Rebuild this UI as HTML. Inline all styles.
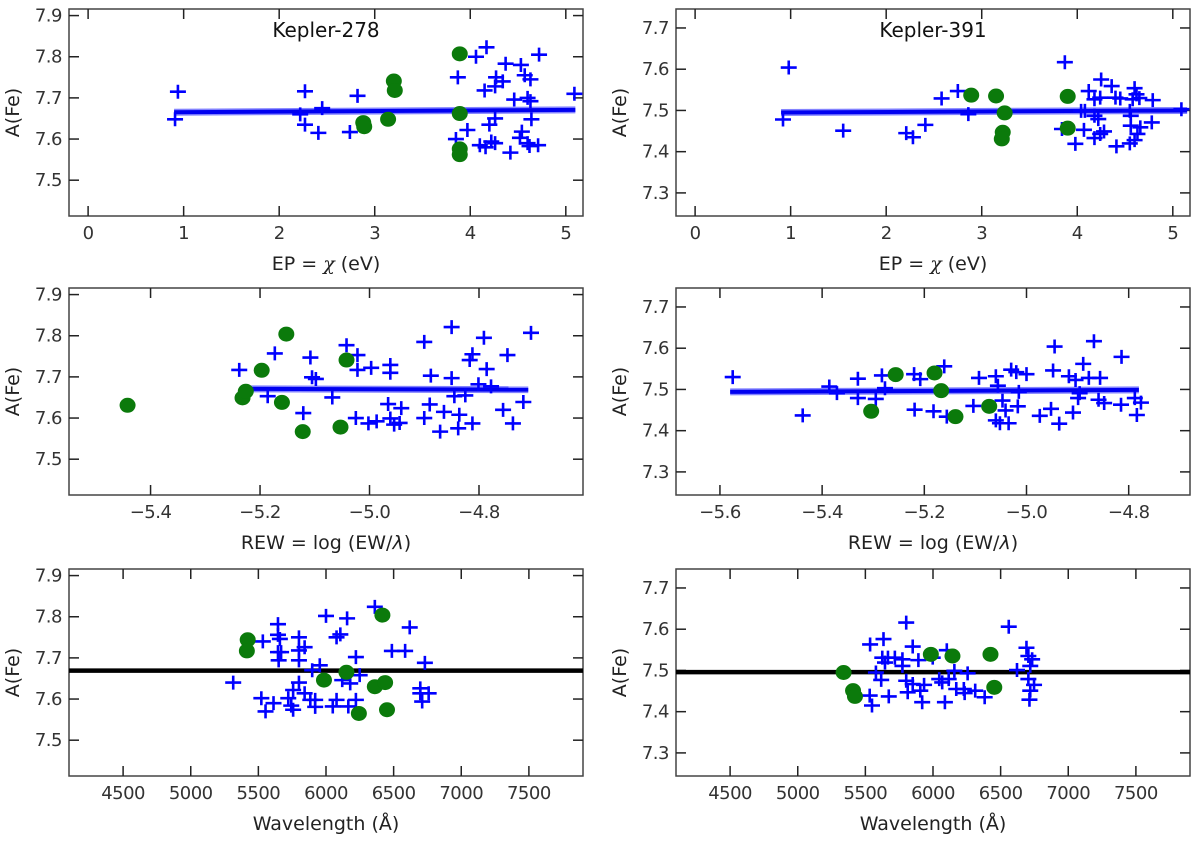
<!DOCTYPE html>
<html><head><meta charset="utf-8">
<style>
body{margin:0;background:#fff;}
svg{display:block;font-family:"DejaVu Sans","Liberation Sans",sans-serif;}
</style></head>
<body>
<svg id="fig" width="1200" height="847" viewBox="0 0 1200 847"></svg>
<script>
// ---------- Kepler-278 EP ----------
const k278_ep_cross_x = [0.94,0.91,2.27,2.22,2.27,2.45,2.41,2.82,2.74,3.87,3.85,3.97,4.06,4.17,4.15,4.27,4.34,4.26,4.37,4.26,4.2,4.1,4.22,4.16,4.26,4.42,4.53,4.57,4.63,4.46,4.6,4.63,4.54,4.52,4.6,4.64,4.71,4.62,4.72,5.09];
const k278_ep_cross_y = [7.715,7.648,7.716,7.66,7.635,7.675,7.615,7.705,7.617,7.75,7.60,7.622,7.80,7.823,7.718,7.75,7.74,7.728,7.783,7.65,7.635,7.585,7.594,7.58,7.59,7.567,7.78,7.755,7.745,7.696,7.70,7.692,7.618,7.603,7.59,7.648,7.585,7.583,7.805,7.71];
const k278_ep_dot_x = [3.89,3.2,3.21,2.88,2.89,3.14,3.89,3.89,3.89];
const k278_ep_dot_y = [7.807,7.741,7.718,7.64,7.63,7.648,7.662,7.576,7.562];
const k278_ep_fit_x = [0.9,5.1];
const k278_ep_fit_y = [7.665,7.671];
// ---------- Kepler-278 REW ----------
const k278_rew_cross_x = [-5.238,-5.173,-5.186,-5.121,-5.108,-5.105,-5.098,-5.068,-5.042,-5.022,-5.022,-5.025,-4.997,-5.002,-4.987,-4.962,-4.962,-4.966,-4.962,-4.955,-4.942,-4.945,-4.9,-4.9,-4.888,-4.89,-4.871,-4.864,-4.85,-4.85,-4.845,-4.836,-4.838,-4.825,-4.812,-4.817,-4.812,-4.801,-4.791,-4.786,-4.778,-4.756,-4.748,-4.738,-4.719,-4.705];
const k278_rew_cross_y = [7.717,7.757,7.653,7.612,7.747,7.699,7.695,7.65,7.777,7.753,7.717,7.60,7.722,7.587,7.592,7.729,7.71,7.634,7.599,7.584,7.624,7.588,7.785,7.6,7.703,7.633,7.567,7.615,7.821,7.697,7.653,7.608,7.575,7.655,7.755,7.741,7.587,7.682,7.795,7.719,7.677,7.62,7.753,7.587,7.639,7.807];
const k278_rew_dot_x = [-5.442,-5.232,-5.226,-5.197,-5.152,-5.16,-5.122,-5.042,-5.053];
const k278_rew_dot_y = [7.631,7.649,7.665,7.716,7.804,7.638,7.567,7.741,7.578];
const k278_rew_fit_x = [-5.235,-4.71];
const k278_rew_fit_y = [7.671,7.669];
// ---------- Kepler-278 wavelength ----------
const k278_wl_cross_x = [5314,5533,5522,5553,5612,5645,5645,5659,5645,5668,5650,5721,5743,5757,5757,5800,5800,5800,5842,5800,5842,5884,5920,5920,5954,5898,6000,6078,6106,6120,6078,6050,6156,6221,6221,6165,6249,6179,6361,6487,6585,6619,6731,6697,6711,6759,6697];
const k278_wl_cross_y = [7.64,7.74,7.602,7.57,7.59,7.782,7.756,7.746,7.714,7.714,7.694,7.602,7.584,7.574,7.622,7.75,7.718,7.694,7.726,7.64,7.614,7.598,7.581,7.598,7.682,7.67,7.802,7.75,7.757,7.646,7.598,7.582,7.796,7.702,7.598,7.582,7.658,7.638,7.824,7.717,7.717,7.774,7.688,7.626,7.594,7.614,7.614];
const k278_wl_dot_x = [5421,5415,5985,6151,6243,6361,6437,6417,6451];
const k278_wl_dot_y = [7.744,7.717,7.646,7.665,7.565,7.63,7.64,7.804,7.574];
const k278_mean = [7.669];
// ---------- Kepler-391 EP ----------
const k391_ep_cross_x = [0.92,0.98,1.55,2.21,2.28,2.41,2.58,2.75,2.86,3.87,3.84,3.98,4.07,4.04,4.12,4.18,4.18,4.22,4.18,4.24,4.28,4.25,4.24,4.36,4.4,4.41,4.45,4.55,4.56,4.55,4.6,4.62,4.65,4.58,4.66,4.63,4.6,4.78,4.79,5.09,4.08,4.56];
const k391_ep_cross_y = [7.478,7.604,7.451,7.445,7.435,7.465,7.529,7.547,7.491,7.617,7.455,7.419,7.453,7.499,7.547,7.527,7.487,7.479,7.433,7.443,7.449,7.575,7.531,7.559,7.531,7.413,7.529,7.42,7.463,7.499,7.554,7.539,7.53,7.527,7.459,7.443,7.428,7.471,7.525,7.503,7.499,7.487];
const k391_ep_dot_x = [2.89,3.15,3.24,3.22,3.21,3.9,3.9];
const k391_ep_dot_y = [7.537,7.535,7.494,7.447,7.431,7.534,7.457];
const k391_ep_fit_x = [0.9,5.15];
const k391_ep_fit_y = [7.495,7.5];
// ---------- Kepler-391 REW ----------
const k391_rew_cross_x = [-5.575,-5.438,-5.386,-5.371,-5.33,-5.33,-5.295,-5.283,-5.277,-5.219,-5.22,-5.208,-5.182,-5.161,-5.156,-5.104,-5.093,-5.06,-5.056,-5.06,-5.052,-5.047,-5.041,-5.035,-5.03,-5.02,-5.015,-5.017,-5.0,-4.974,-4.952,-4.948,-4.945,-4.936,-4.917,-4.909,-4.904,-4.896,-4.899,-4.889,-4.878,-4.868,-4.856,-4.859,-4.848,-4.815,-4.814,-4.788,-4.784,-4.776];
const k391_rew_cross_y = [7.53,7.437,7.507,7.491,7.526,7.479,7.477,7.534,7.503,7.451,7.537,7.525,7.447,7.556,7.434,7.46,7.528,7.532,7.509,7.425,7.418,7.473,7.449,7.418,7.548,7.542,7.494,7.459,7.537,7.436,7.453,7.546,7.604,7.417,7.532,7.444,7.523,7.491,7.479,7.562,7.528,7.617,7.528,7.475,7.467,7.463,7.579,7.479,7.438,7.468];
const k391_rew_dot_x = [-5.256,-5.304,-5.18,-5.167,-5.139,-5.073];
const k391_rew_dot_y = [7.536,7.447,7.54,7.497,7.434,7.459];
const k391_rew_fit_x = [-5.58,-4.78];
const k391_rew_fit_y = [7.494,7.499];
// ---------- Kepler-391 wavelength ----------
const k391_wl_cross_x = [5535,5532,5549,5634,5625,5645,5667,5578,5617,5673,5718,5774,5802,5774,5802,5813,5850,5850,5892,5906,5920,5934,5998,6046,6068,6088,6102,6116,6158,6172,6228,6234,6256,6312,6382,6560,6621,6691,6705,6719,6733,6705,6719,6713,6747];
const k391_wl_cross_y = [7.563,7.439,7.415,7.576,7.531,7.519,7.531,7.495,7.477,7.437,7.531,7.527,7.616,7.511,7.475,7.447,7.558,7.467,7.525,7.451,7.423,7.465,7.531,7.479,7.471,7.423,7.549,7.479,7.499,7.455,7.455,7.445,7.493,7.451,7.435,7.606,7.501,7.555,7.535,7.511,7.527,7.479,7.451,7.429,7.465];
const k391_wl_dot_x = [5339,5409,5423,5984,6144,6425,6453];
const k391_wl_dot_y = [7.495,7.451,7.437,7.539,7.535,7.539,7.459];
const k391_mean = [7.496];

// axis tick label arrays
const yticks_278 = [7.5,7.6,7.7,7.8,7.9];
const yticks_391 = [7.3,7.4,7.5,7.6,7.7];
const ep_ticks = [0,1,2,3,4,5];
const rew_ticks_278 = [-5.4,-5.2,-5.0,-4.8];
const rew_ticks_391 = [-5.6,-5.4,-5.2,-5.0,-4.8];
const wl_ticks = [4500,5000,5500,6000,6500,7000,7500];

const NS = "http://www.w3.org/2000/svg";
const svg = document.getElementById('fig');
function mk(tag, attrs, parent){
  const e = document.createElementNS(NS, tag);
  for (const k in attrs) e.setAttribute(k, attrs[k]);
  (parent||svg).appendChild(e);
  return e;
}
function fmtTick(v, type){
  if (type==='rew') return (v<0?'\u2212':'') + Math.abs(v).toFixed(1);
  if (type==='y') return v.toFixed(1);
  return String(v);
}

function panel(cfg){
  const g = mk('g', {});
  
  
  const L=cfg.x0, R=cfg.x1, T=cfg.y0, B=cfg.y1;
  const sx = v => L + (v-cfg.xmin)/(cfg.xmax-cfg.xmin)*(R-L);
  const sy = v => B - (v-cfg.ymin)/(cfg.ymax-cfg.ymin)*(B-T);
  const frame = mk('rect', {x:L, y:T, width:R-L, height:B-T, fill:'none', stroke:'#444', 'stroke-width':1.5}, g);
  
  
  cfg.yticks.forEach(v=>{
    const y = sy(v);
    mk('line',{x1:L,x2:L+10,y1:y,y2:y,stroke:'#222','stroke-width':1.5},g);
    mk('line',{x1:R-10,x2:R,y1:y,y2:y,stroke:'#222','stroke-width':1.5},g);
    const t = mk('text',{x:L-7,y:y+6,'text-anchor':'end','font-size':18,'letter-spacing':'-0.5',fill:'#333'},g);
    t.textContent = fmtTick(v,'y');
    
    
  });
  cfg.xticks.forEach(v=>{
    const x = sx(v);
    mk('line',{x1:x,x2:x,y1:B,y2:B-10,stroke:'#222','stroke-width':1.5},g);
    mk('line',{x1:x,x2:x,y1:T,y2:T+10,stroke:'#222','stroke-width':1.5},g);
    const t = mk('text',{x:x,y:B+23,'text-anchor':'middle','font-size':18,'letter-spacing':'-0.5',fill:'#333'},g);
    t.textContent = fmtTick(v,cfg.xtype);
    
    
  });
  const xt = mk('text',{x:(L+R)/2,y:B+54,'text-anchor':'middle','font-size':19,fill:'#222'},g);
  xt.innerHTML = cfg.xlabel;
  
  
  const yt = mk('text',{x:0,y:0,'text-anchor':'middle','font-size':19,fill:'#222',transform:`translate(${L-50},${(T+B)/2}) rotate(-90)`},g);
  yt.textContent = 'A(Fe)';
  
  
  if (cfg.title){
    const tt = mk('text',{x:(L+R)/2,y:T+28,'text-anchor':'middle','font-size':20,fill:'#111'},g);
    tt.textContent = cfg.title;
    
    
  }
  const clip = mk('g',{},g);
  if (cfg.fitx){
    mk('line',{x1:sx(cfg.fitx[0]),x2:sx(cfg.fitx[1]),y1:sy(cfg.fity[0]),y2:sy(cfg.fity[1]),stroke:'#5050ff','stroke-width':7,opacity:0.7},clip);
    const fl = mk('line',{x1:sx(cfg.fitx[0]),x2:sx(cfg.fitx[1]),y1:sy(cfg.fity[0]),y2:sy(cfg.fity[1]),stroke:'#0000f0','stroke-width':4},clip);
    
    
  }
  if (cfg.mean){
    const ml = mk('line',{x1:L,x2:R,y1:sy(cfg.mean[0]),y2:sy(cfg.mean[0]),stroke:'#000','stroke-width':4.5},clip);
    
    
  }
  cfg.cx.forEach((v,i)=>{
    const x=sx(v), y=sy(cfg.cy[i]);
    const p = mk('path',{d:`M${x-8},${y}H${x+8}M${x},${y-7}V${y+7}`,stroke:'#0000ff','stroke-width':2.6,fill:'none'},clip);
    
    
  });
  cfg.dx.forEach((v,i)=>{
    const c = mk('ellipse',{cx:sx(v),cy:sy(cfg.dy[i]),rx:8,ry:7.5,fill:'#0b7a0b'},clip);
    
    
  });
}

const LX=[69,583], RX=[676,1190];
const rows=[[9,216],[288,495],[569,776]];
const EPL='EP = <tspan font-style="italic" font-family="DejaVu Serif, serif">χ</tspan> (eV)';
const REWL='REW = log (EW/<tspan font-style="italic">λ</tspan>)';
const WLL='Wavelength (Å)';

panel({name:'k278-ep-panel',title:'Kepler-278',x0:LX[0],x1:LX[1],y0:rows[0][0],y1:rows[0][1],xmin:-0.2,xmax:5.18,ymin:7.413,ymax:7.916,yticks:yticks_278,xticks:ep_ticks,xtype:'n',xlabel:EPL,cx:k278_ep_cross_x,cy:k278_ep_cross_y,dx:k278_ep_dot_x,dy:k278_ep_dot_y,fitx:k278_ep_fit_x,fity:k278_ep_fit_y});
panel({name:'k278-rew-panel',x0:LX[0],x1:LX[1],y0:rows[1][0],y1:rows[1][1],xmin:-5.549,xmax:-4.61,ymin:7.413,ymax:7.916,yticks:yticks_278,xticks:rew_ticks_278,xtype:'rew',xlabel:REWL,cx:k278_rew_cross_x,cy:k278_rew_cross_y,dx:k278_rew_dot_x,dy:k278_rew_dot_y,fitx:k278_rew_fit_x,fity:k278_rew_fit_y});
panel({name:'k278-wavelength-panel',x0:LX[0],x1:LX[1],y0:rows[2][0],y1:rows[2][1],xmin:4100,xmax:7900,ymin:7.413,ymax:7.916,yticks:yticks_278,xticks:wl_ticks,xtype:'n',xlabel:WLL,cx:k278_wl_cross_x,cy:k278_wl_cross_y,dx:k278_wl_dot_x,dy:k278_wl_dot_y,mean:k278_mean});
panel({name:'k391-ep-panel',title:'Kepler-391',x0:RX[0],x1:RX[1],y0:rows[0][0],y1:rows[0][1],xmin:-0.2,xmax:5.18,ymin:7.244,ymax:7.746,yticks:yticks_391,xticks:ep_ticks,xtype:'n',xlabel:EPL,cx:k391_ep_cross_x,cy:k391_ep_cross_y,dx:k391_ep_dot_x,dy:k391_ep_dot_y,fitx:k391_ep_fit_x,fity:k391_ep_fit_y});
panel({name:'k391-rew-panel',x0:RX[0],x1:RX[1],y0:rows[1][0],y1:rows[1][1],xmin:-5.686,xmax:-4.68,ymin:7.244,ymax:7.746,yticks:yticks_391,xticks:rew_ticks_391,xtype:'rew',xlabel:REWL,cx:k391_rew_cross_x,cy:k391_rew_cross_y,dx:k391_rew_dot_x,dy:k391_rew_dot_y,fitx:k391_rew_fit_x,fity:k391_rew_fit_y});
panel({name:'k391-wavelength-panel',x0:RX[0],x1:RX[1],y0:rows[2][0],y1:rows[2][1],xmin:4100,xmax:7900,ymin:7.244,ymax:7.746,yticks:yticks_391,xticks:wl_ticks,xtype:'n',xlabel:WLL,cx:k391_wl_cross_x,cy:k391_wl_cross_y,dx:k391_wl_dot_x,dy:k391_wl_dot_y,mean:k391_mean});
</script>
</body></html>
